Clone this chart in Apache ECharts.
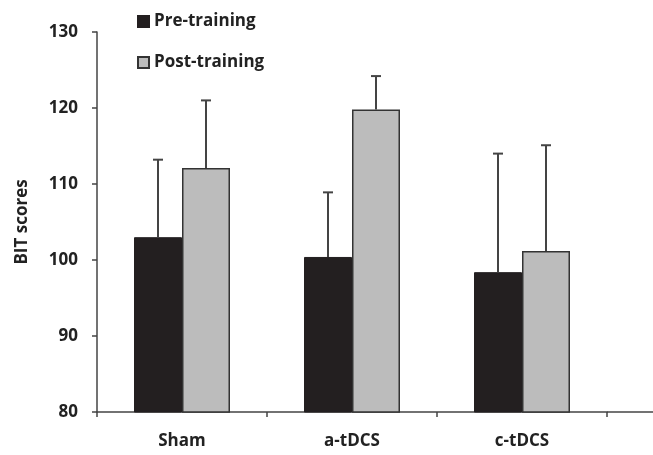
<!DOCTYPE html>
<html><head><meta charset="utf-8">
<script src="https://cdn.jsdelivr.net/npm/echarts@6/dist/echarts.min.js"></script>
<style>html,body{margin:0;padding:0;background:#fff}#c{width:653px;height:455px}</style>
</head><body><div id="c"></div>
<script>
var categories = ['Sham', 'a-tDCS', 'c-tDCS'];
var preTraining = [103.0, 100.4, 98.4];
var postTraining = [112.1, 119.8, 101.2];
var preErrTop = [113.2, 108.9, 114.0];
var postErrTop = [121.0, 124.2, 115.1];
var yTicks = [80, 90, 100, 110, 120, 130];

var BW = 48;
var font = 'Open Sans';
var chart = echarts.init(document.getElementById('c'));

function errSeries(name, vals, tops, off) {
  return {
    type: 'custom', name: name + ' err', silent: true, z: 5,
    data: vals.map(function (v, i) { return [i, v, tops[i]]; }),
    renderItem: function (params, api) {
      var b = api.coord([api.value(0), api.value(1)]);
      var t = api.coord([api.value(0), api.value(2)]);
      var x = b[0] + off;
      var st = { stroke: '#444', lineWidth: 2 };
      return { type: 'group', children: [
        { type: 'line', shape: { x1: x, y1: b[1], x2: x, y2: t[1] }, style: st },
        { type: 'line', shape: { x1: x - 5, y1: t[1], x2: x + 5, y2: t[1] }, style: st }
      ]};
    }
  };
}

chart.setOption({
  animation: false,
  grid: { left: 97, right: 46, top: 32, bottom: 43 },
  legend: {
    orient: 'vertical', left: 132, top: 8, itemGap: 24, itemWidth: 11, itemHeight: 11,
    data: [
      { name: 'Pre-training', icon: 'rect' },
      { name: 'Post-training', icon: 'rect' }
    ],
    textStyle: { fontFamily: font, fontWeight: 'bold', fontSize: 17, color: '#222' }
  },
  xAxis: {
    type: 'category', data: categories, boundaryGap: true,
    axisLine: { lineStyle: { color: '#444', width: 1.5 } },
    axisTick: { show: true, length: 5, lineStyle: { color: '#444', width: 1.5 } },
    axisLabel: { fontFamily: font, fontWeight: 'bold', fontSize: 17, color: '#222', margin: 21 }
  },
  yAxis: {
    type: 'value', min: 80, max: 130, interval: 10,
    name: 'BIT scores', nameLocation: 'middle', nameGap: 66, nameRotate: 90,
    nameTextStyle: { fontFamily: font, fontWeight: 'bold', fontSize: 17, color: '#222' },
    axisLine: { show: true, lineStyle: { color: '#444', width: 1.5 } },
    axisTick: { show: true, length: 5, lineStyle: { color: '#444', width: 1.5 } },
    splitLine: { show: false },
    axisLabel: {
      fontFamily: font, fontWeight: 'bold', fontSize: 17, color: '#222', margin: 19,
      formatter: function (v) { return yTicks.indexOf(v) >= 0 ? String(v) : ''; }
    }
  },
  series: [
    { type: 'bar', name: 'Pre-training', data: preTraining, barWidth: BW, barGap: '0%',
      itemStyle: { color: '#231f20', borderColor: '#231f20', borderWidth: 1 } },
    { type: 'bar', name: 'Post-training', data: postTraining, barWidth: BW,
      itemStyle: { color: '#bcbcbc', borderColor: '#333', borderWidth: 1.5 } },
    errSeries('Pre-training', preTraining, preErrTop, -BW / 2),
    errSeries('Post-training', postTraining, postErrTop, BW / 2)
  ],
  graphic: [
    { type: 'line', shape: { x1: 607, y1: 412, x2: 653, y2: 412 },
      style: { stroke: '#444', lineWidth: 1.5 } }
  ]
});
</script></body></html>
